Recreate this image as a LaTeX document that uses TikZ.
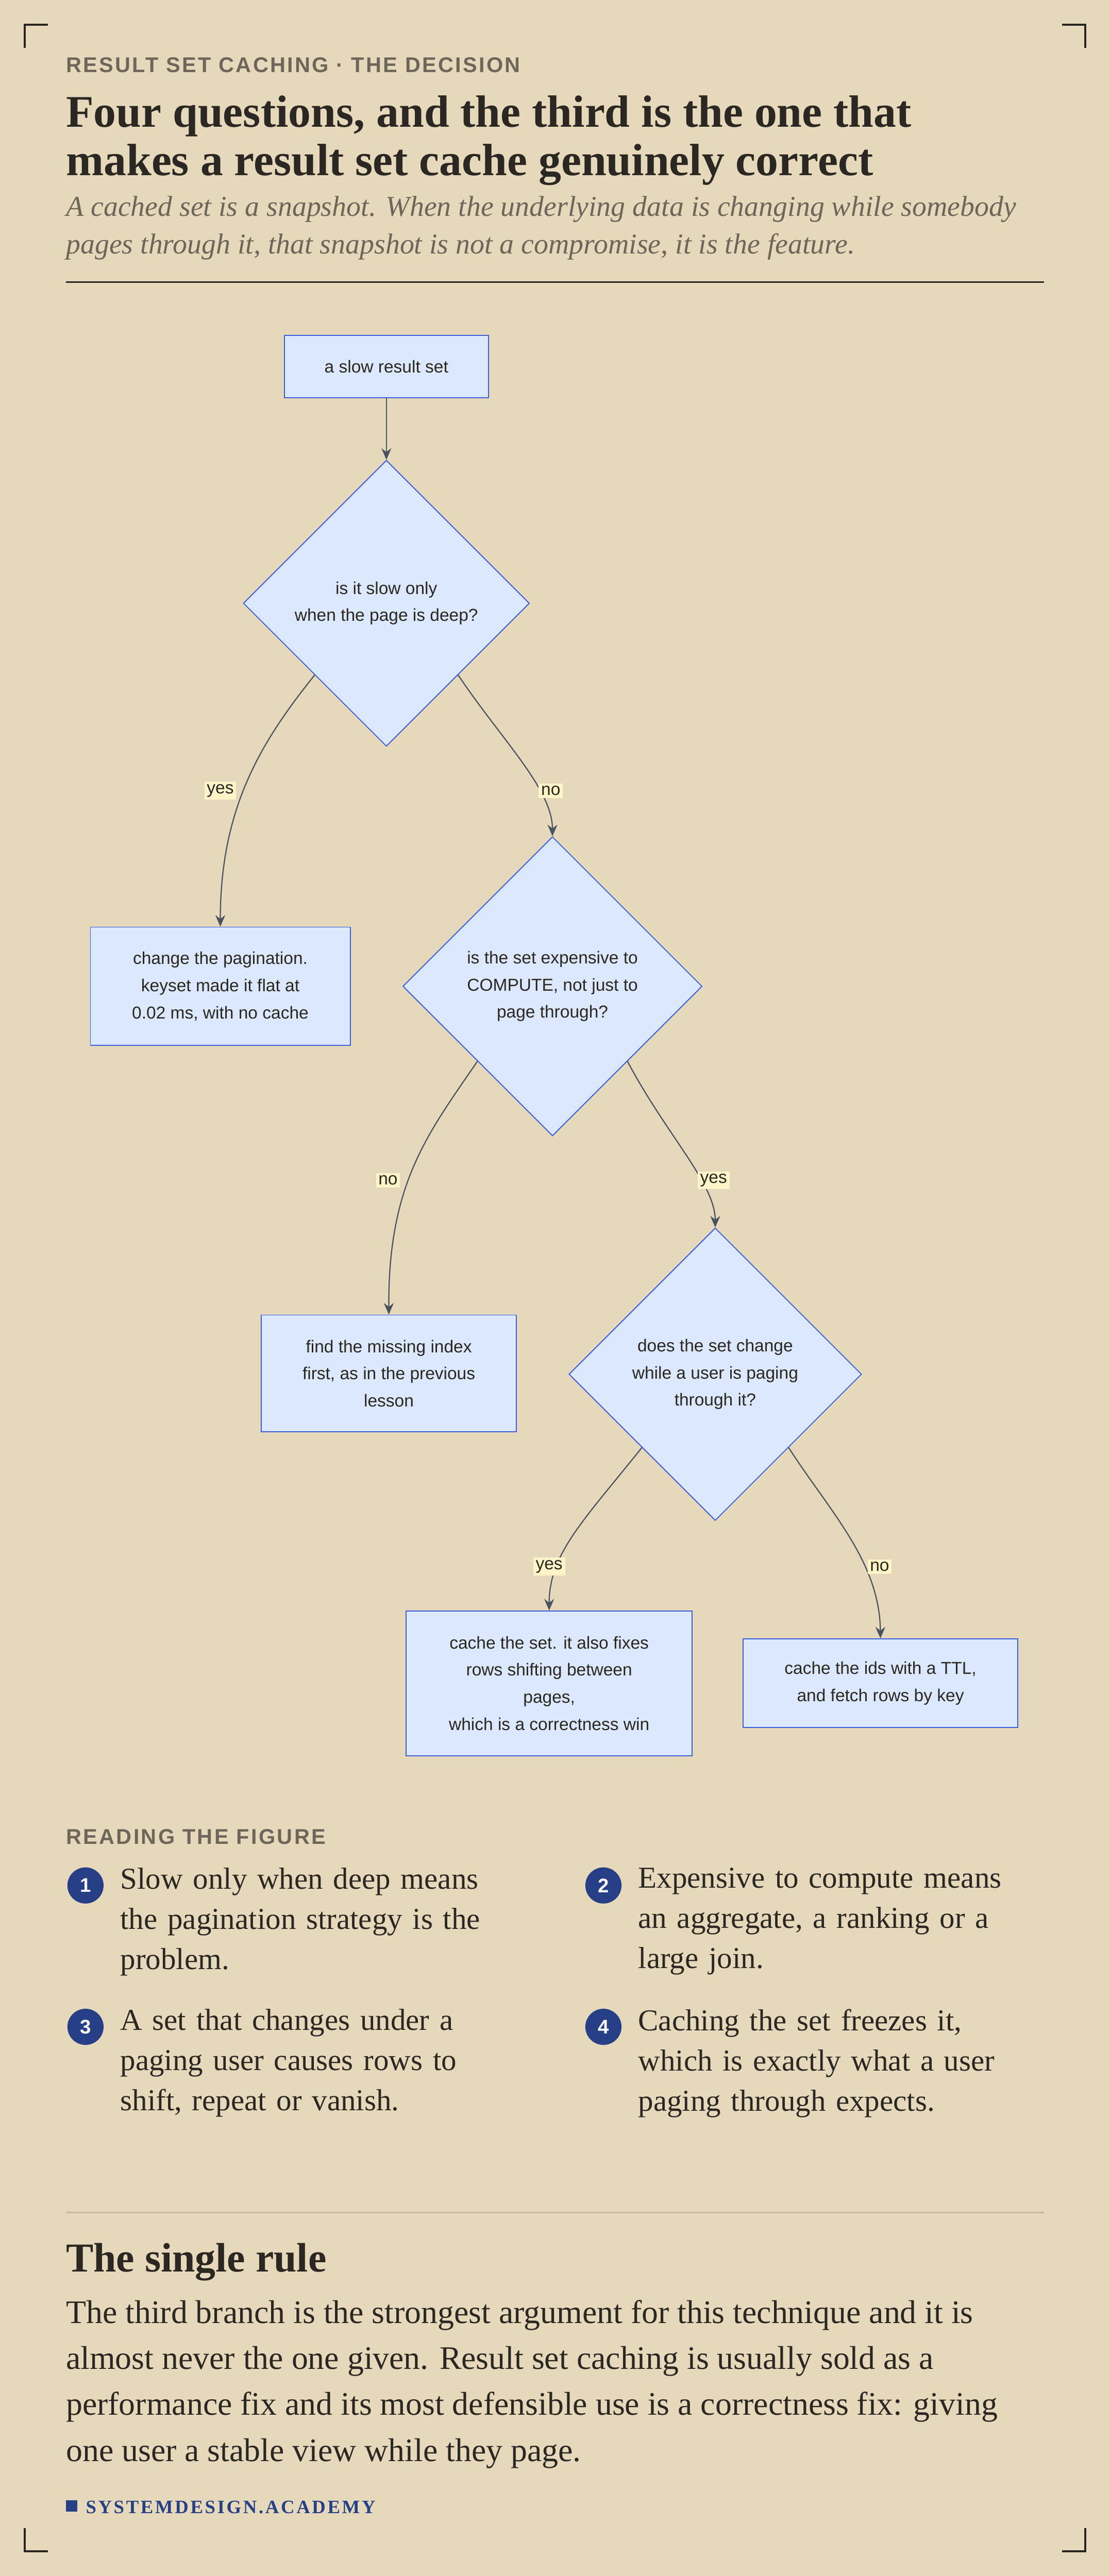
\documentclass[tikz,border=0pt]{standalone}
\usepackage{fontspec}
\setmainfont{Liberation Serif}
\newfontfamily\flowfont{Liberation Sans}
\newfontfamily\capfont[LetterSpace=8]{Liberation Sans}
\newfontfamily\footfont[LetterSpace=10]{Liberation Serif}
\usetikzlibrary{shapes.geometric,arrows.meta}
\definecolor{bg}{HTML}{E6D8BB}
\definecolor{ink}{HTML}{2B2722}
\definecolor{muted}{HTML}{6E665A}
\definecolor{nfill}{HTML}{DBE8FD}
\definecolor{nline}{HTML}{3B5EDB}
\definecolor{edge}{HTML}{4A5260}
\definecolor{lbl}{HTML}{FFF4C8}
\definecolor{navy}{HTML}{263F86}
\definecolor{rule}{HTML}{C9B99A}
\tikzset{
  box/.style={draw=nline,fill=nfill,line width=0.6pt,rectangle,inner sep=0pt,align=center,font=\flowfont\fontsize{10.5}{16.5}\selectfont,text=ink},
  dia/.style={draw=nline,fill=nfill,line width=0.6pt,diamond,inner sep=0pt,align=center,font=\flowfont\fontsize{10.5}{16.5}\selectfont,text=ink},
  arr/.style={draw=edge,line width=0.7pt,-{Stealth[length=7pt,width=6pt]}},
  elab/.style={fill=lbl,inner sep=1.5pt,font=\flowfont\fontsize{10.5}{12}\selectfont,text=ink},
  corner/.style={draw=ink,line width=1.2pt},
  num/.style={circle,fill=navy,minimum size=22pt,inner sep=0pt,text=white,font=\flowfont\bfseries\fontsize{12}{12}\selectfont},
  item/.style={anchor=north west,align=left,text width=285pt,text=ink,font=\fontsize{18.5}{24.5}\selectfont,inner sep=0pt}
}
\begin{document}
\begin{tikzpicture}[x=1pt,y=-1pt]
\fill[bg] (0,0) rectangle (675,1567.1);
\useasboundingbox (0,0) rectangle (675,1567.1);
% corners
\draw[corner] (15,29) -- (15,15) -- (29,15);
\draw[corner] (646,15) -- (660,15) -- (660,29);
\draw[corner] (15,1538) -- (15,1552) -- (29,1552);
\draw[corner] (646,1552) -- (660,1552) -- (660,1538);
% header
\node[anchor=base west,inner sep=0pt,text=muted,font=\capfont\bfseries\fontsize{13}{13}\selectfont] (kicker) at (40,44) {RESULT SET CACHING · THE DECISION};
\node[anchor=north west,inner sep=0pt,align=left,text=ink,font=\bfseries\fontsize{27.5}{29.5}\selectfont] (title) at (40,58) {Four questions, and the third is the one that\\makes a result set cache genuinely correct};
\node[anchor=north west,inner sep=0pt,align=left,text=muted,font=\itshape\fontsize{17.5}{23}\selectfont] (sub) at (40,119) {A cached set is a snapshot. When the underlying data is changing while somebody\\pages through it, that snapshot is not a compromise, it is the feature.};
\draw[ink,line width=1pt] (40,171.5) -- (635,171.5);
% flowchart
\node[box,minimum width=124pt,minimum height=38pt] (start) at (235,223) {a slow result set};
\node[dia,minimum width=174pt,minimum height=174pt] (d1) at (235,367) {is it slow only\\when the page is deep?};
\node[box,minimum width=158pt,minimum height=72pt] (b1) at (134,600) {change the pagination.\\keyset made it flat at\\0.02 ms, with no cache};
\node[dia,minimum width=182pt,minimum height=182pt] (d2) at (336,600) {is the set expensive to\\COMPUTE, not just to\\page through?};
\node[box,minimum width=155pt,minimum height=71pt] (b2) at (236.5,835.5) {find the missing index\\first, as in the previous\\lesson};
\node[dia,minimum width=178pt,minimum height=178pt] (d3) at (435,836) {does the set change\\while a user is paging\\through it?};
\node[box,minimum width=174pt,minimum height=88pt] (b3) at (334,1024) {cache the set. it also fixes\\rows shifting between\\pages,\\which is a correctness win};
\node[box,minimum width=167pt,minimum height=54pt] (b4) at (535.5,1024) {cache the ids with a TTL,\\and fetch rows by key};
\draw[arr] (start.south) -- (d1.north);
\draw[arr] (d1.south west) .. controls (160,450) and (134,490) .. (b1.north);
\draw[arr] (d1.south east) .. controls (305,450) and (336,480) .. (d2.north);
\draw[arr] (d2.south west) .. controls (260,690) and (236,720) .. (b2.north);
\draw[arr] (d2.south east) .. controls (405,690) and (435,720) .. (d3.north);
\draw[arr] (d3.south west) .. controls (355,925) and (334,945) .. (b3.north);
\draw[arr] (d3.south east) .. controls (505,920) and (535,950) .. (b4.north);
\node[elab] (l1) at (134,481) {yes};
\node[elab] (l2) at (335,481) {no};
\node[elab] (l3) at (236,718) {no};
\node[elab] (l4) at (434,718) {yes};
\node[elab] (l5) at (334,953) {yes};
\node[elab] (l6) at (535,953) {no};
% reading the figure
\node[anchor=base west,inner sep=0pt,text=muted,font=\capfont\bfseries\fontsize{13}{13}\selectfont] (rtf) at (40,1122) {READING THE FIGURE};
\node[num] (n1) at (52,1147) {1};
\node[item] (t1) at (73,1136) {Slow only when deep means\\the pagination strategy is the\\problem.};
\node[num] (n2) at (367,1147) {2};
\node[item] (t2) at (388,1136) {Expensive to compute means\\an aggregate, a ranking or a\\large join.};
\node[num] (n3) at (52,1233) {3};
\node[item] (t3) at (73,1222) {A set that changes under a\\paging user causes rows to\\shift, repeat or vanish.};
\node[num] (n4) at (367,1233) {4};
\node[item] (t4) at (388,1222) {Caching the set freezes it,\\which is exactly what a user\\paging through expects.};
% single rule
\draw[rule,line width=0.8pt] (40,1346) -- (635,1346);
\node[anchor=base west,inner sep=0pt,text=ink,font=\bfseries\fontsize{25}{25}\selectfont] (rh) at (40,1382) {The single rule};
\node[anchor=north west,inner sep=0pt,align=left,text=ink,font=\fontsize{20}{28}\selectfont] (rp) at (40,1399) {The third branch is the strongest argument for this technique and it is\\almost never the one given. Result set caching is usually sold as a\\performance fix and its most defensible use is a correctness fix: giving\\one user a stable view while they page.};
\fill[navy] (40,1521) rectangle (47,1528);
\node[anchor=base west,inner sep=0pt,text=navy,font=\footfont\bfseries\fontsize{11.5}{11.5}\selectfont] (foot) at (52,1529) {SYSTEMDESIGN.ACADEMY};
\end{tikzpicture}
\end{document}
